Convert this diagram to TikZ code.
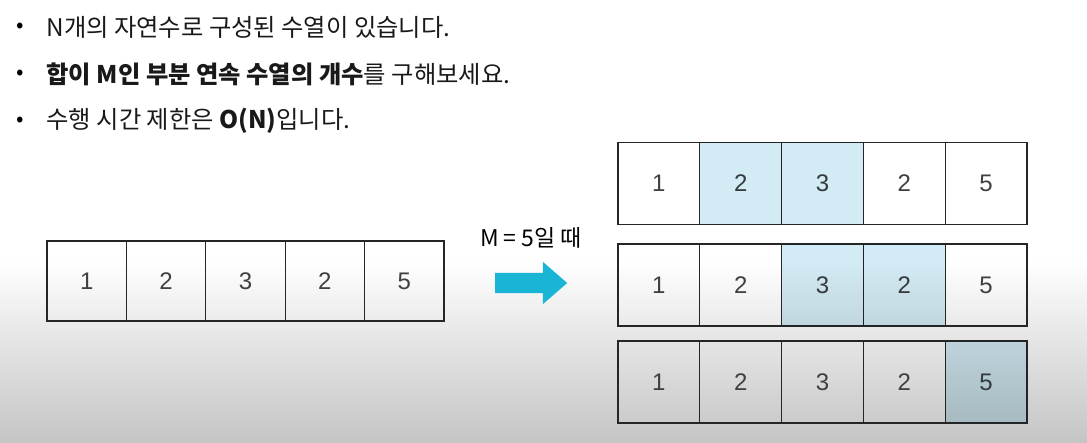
\documentclass[tikz,border=0pt]{standalone}
\usepackage{fontspec}
\setmainfont{Noto Sans CJK KR}
\newfontfamily\numfont{Liberation Sans}
\usetikzlibrary{positioning,shapes.arrows}

\definecolor{hlblue}{HTML}{D3EBF4}
\definecolor{arrowcyan}{HTML}{1AB4D4}

\begin{document}
\begin{tikzpicture}[x=1pt,y=-1pt,
  cell/.style={draw=black!85,line width=1.3pt,minimum width=79.4pt,minimum height=80pt,
    inner sep=0pt,font=\numfont\fontsize{24}{24}\selectfont,text=black!75},
  rcell/.style={cell,minimum width=81.8pt,minimum height=82pt},
  hl/.style={draw=none,fill=hlblue,blend mode=multiply},
  bulletdot/.style={font=\fontsize{22}{24}\selectfont},
  line/.style={anchor=west,font=\fontsize{24.3}{28}\selectfont,text=black!90}]
\useasboundingbox (0,0) rectangle (1087,443);

% Background
\fill[white] (0,0) rectangle (1087,260);
\shade[top color=white,bottom color=black!23] (0,260) rectangle (1087,443);

% Bullet lines
\node[bulletdot] (d1) at (20,28) {•};
\node[line] (t1) at (43,27) {N개의 자연수로 구성된 수열이 있습니다.};
\node[bulletdot] (d2) at (20,75) {•};
\node[line] (t2) at (43,74) {{\bfseries 합이 M인 부분 연속 수열의 개수}를 구해보세요.};
\node[bulletdot] (d3) at (20,122) {•};
\node[line] (t3) at (43,121) {수행 시간 제한은 {\bfseries O(N)}입니다.};

% Original sequence
\foreach \v [count=\i] in {1,2,3,2,5}
  \node[cell] (s\i) at (47+79.4*\i-39.7,281) {\v};

% Arrow and condition
\node[single arrow,fill=arrowcyan,minimum height=72pt,inner xsep=0pt,inner ysep=10pt,
  single arrow head extend=11pt,single arrow tip angle=82,anchor=tail] (arr) at (495,283) {};
\node[font=\fontsize{23}{26}\selectfont] (cond) at (531,238) {M = 5일 때};

% Results
\foreach \r/\y in {1/183.5,2/285,3/382}
  \foreach \v [count=\i] in {1,2,3,2,5}
    \node[rcell] (r\r-\i) at (618+81.8*\i-40.9,\y) {\v};

% Highlighted windows
\foreach \r/\i in {1/2,1/3,2/3,2/4,3/5}
  \node[rcell,hl] (h\r-\i) at (r\r-\i) {};
\end{tikzpicture}
\end{document}
